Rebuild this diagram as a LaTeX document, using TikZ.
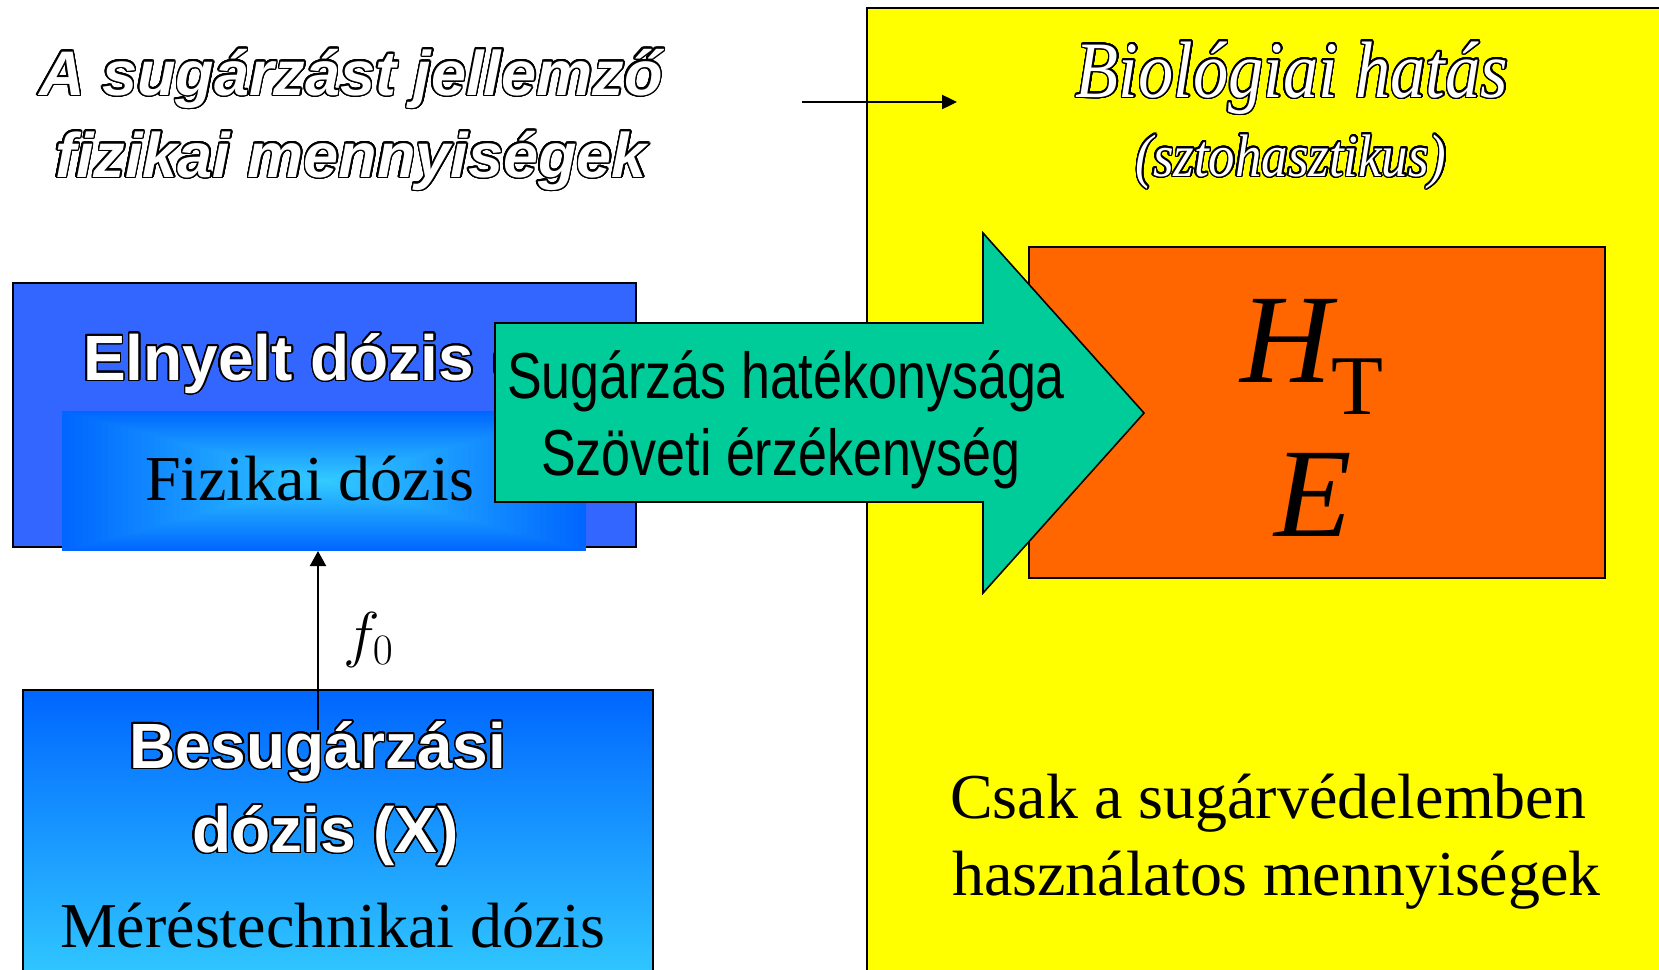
\RequirePackage{fix-cm}
\documentclass[tikz,border=0pt]{standalone}
\usepackage{fontspec}
\setmainfont{Liberation Serif}
\newfontfamily\arialfam{Liberation Sans}
\newfontfamily\narrowfam{Liberation Sans}[FakeStretch=0.80]
\newfontfamily\biofam{Liberation Serif}[FakeStretch=0.88]
\usepackage{contour}
\contourlength{0.75pt}
\contournumber{32}
\usetikzlibrary{arrows.meta,fit}
\definecolor{slideyellow}{HTML}{FFFF00}
\definecolor{slideorange}{HTML}{FF6600}
\definecolor{slideblue}{HTML}{3366FF}
\definecolor{deepblue}{HTML}{0066FF}
\definecolor{skyblue}{HTML}{33CCFF}
\definecolor{slidegreen}{HTML}{00CC99}
\tikzset{
  txt/.style={inner sep=0pt, outer sep=0pt},
  outsans/.style={txt, text=white, font=\arialfam\bfseries\fontsize{32}{38}\selectfont},
  titlefont/.style={txt, text=white, font=\arialfam\bfseries\itshape\fontsize{31.5}{38}\selectfont},
  serif32/.style={txt, font=\fontsize{32}{38}\selectfont},
  narrowtxt/.style={txt, font=\narrowfam\fontsize{32.5}{38}\selectfont},
  boxline/.style={draw=black, line width=0.8pt},
  regionbox/.style={inner sep=0pt, outer sep=0pt},
}
\begin{document}
\begin{tikzpicture}[x=0.5pt,y=-0.5pt]
\useasboundingbox (0,0) rectangle (1659,969);
% right yellow region
\node[regionbox, boxline, fill=slideyellow, fit={(867,8) (1690,1000)}] (bio) {};
\node[regionbox, boxline, fill=slideorange, fit={(1029,247) (1605,578)}] (orange) {};
\node[txt, anchor=base west] (ht) at (1240,382)
  {\fontsize{63.5}{70}\selectfont\itshape H\upshape\fontsize{42.5}{48}\selectfont\raisebox{-16pt}{T}};
\node[txt, anchor=base west] (eq) at (1274,536) {\fontsize{63.5}{70}\selectfont\itshape E};
\node[serif32, anchor=base west] (csak1) at (950,818) {Csak a sugárvédelemben};
\node[serif32, anchor=base west] (csak2) at (952,895) {használatos mennyiségek};
\node[txt, text=white, font=\biofam\itshape\fontsize{40}{46}\selectfont, anchor=base] (bio1) at (1292,97) {\contour{black}{Biológiai hatás}};
\node[txt, text=white, font=\biofam\itshape\fontsize{30}{36}\selectfont, anchor=base] (bio2) at (1291,176) {\contour{black}{(sztohasztikus)}};
% title
\node[titlefont, anchor=base] (t1) at (351,95) {\contour{black}{A sugárzást jellemző}};
\node[titlefont, anchor=base] (t2) at (351,177) {\contour{black}{fizikai mennyiségek}};
\coordinate (sa) at (802,102);
\coordinate (sb) at (957,102);
\draw[line width=1.2pt, -{Triangle[length=7.5pt,width=7pt]}] (sa) -- (sb);
% absorbed dose
\node[regionbox, draw=black, line width=1pt, fill=slideblue, fit={(13,283) (636,547)}] (elny) {};
\node[regionbox, fit={(62,411) (586,551)}] (grad) {};
\foreach \i in {0,...,40} {
  \pgfmathsetmacro\s{1-\i/40}
  \pgfmathsetmacro\p{100*\i/40}
  \fill[skyblue!\p!deepblue] ({324-262*\s},{481-70*\s}) rectangle ({324+262*\s},{481+70*\s});
}
\node[outsans, anchor=base west] (eln) at (83,380) {\contour{black}{Elnyelt dózis (}};
\node[serif32, anchor=base west] (fiz) at (145,500) {Fizikai dózis};
% exposure
\node[regionbox, draw=black, line width=0.8pt, top color=deepblue, bottom color=skyblue, fit={(23,690) (653,990)}] (besug) {};
\node[outsans, anchor=base west] (bes1) at (129,768) {\contour{black}{Besugárzási}};
\node[outsans, anchor=base west] (bes2) at (192,852) {\contour{black}{dózis (X)}};
\node[serif32, anchor=base west] (mer) at (60,947) {Méréstechnikai dózis};
\coordinate (fstart) at (318,730);
\draw[line width=1pt, -{Triangle[length=7.5pt,width=8pt]}] (fstart) -- (fstart |- grad.south);
\node[txt, anchor=base west] (flabel) at (343,655) {\fontsize{31}{36}\selectfont $f_0$};
% green arrow
\draw[fill=slidegreen, line width=0.8pt, line join=miter] (495,323) -- (983,323) -- (983,233) -- (1144,413) -- (983,593) -- (983,502) -- (495,502) -- cycle;
\node[narrowtxt, anchor=base] (eff1) at (786,398) {Sugárzás hatékonysága};
\node[narrowtxt, anchor=base] (eff2) at (781,475) {Szöveti érzékenység};
\end{tikzpicture}
\end{document}
